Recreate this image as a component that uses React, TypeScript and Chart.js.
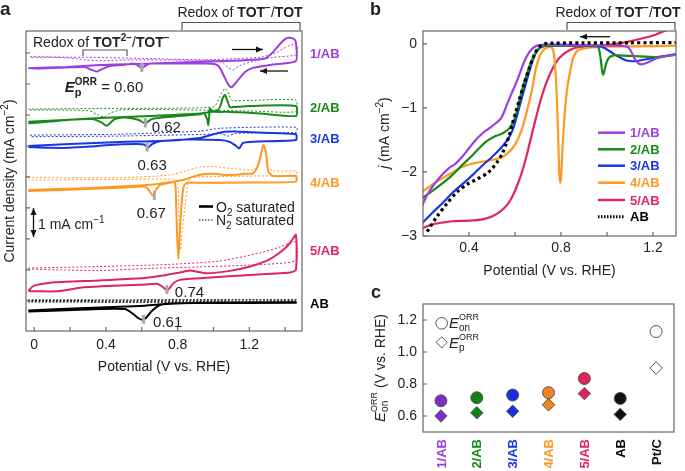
import React, { useEffect, useRef } from 'react';
import { Chart, registerables } from 'chart.js';
Chart.register(...registerables);

const FF = '"Liberation Sans", Arial, Helvetica, sans-serif';
Chart.defaults.font.family = FF;
Chart.defaults.color = '#222';

// ---------- colours ----------
const C1 = '#9a3fe0';
const C2 = '#178a17';
const C3 = '#1a35e8';
const C4 = '#ff9820';
const C5 = '#e2245c';
const CAB = '#000000';
const lineColors = [C1, C2, C3, C4, C5, CAB];
const dotColorsC = ['#7b2fc4', '#138013', '#1830dc', '#f2851f', '#e0245a', '#111111', '#ffffff'];

// ---------- panel a : CV loops (V vs RHE, offset current) ----------
const cv1O2 = [[-0.033,7.51],[0.181,7.55],[0.367,7.61],[0.739,7.68],[1.11,7.75],[1.26,7.80],[1.297,7.84],[1.332,8.03],[1.371,8.29],[1.405,8.47],[1.427,8.49],[1.449,8.45],[1.46,8.35],
  [1.46,7.74],[1.332,7.63],[1.22,7.52],[1.176,7.39],[1.137,7.13],[1.103,6.90],[1.087,6.94],[1.064,7.19],[1.036,7.52],[1.014,7.63],[0.953,7.66],[0.739,7.66],[0.646,7.66],[0.625,7.60],[0.60,7.52],[0.578,7.60],[0.55,7.66],[0.516,7.63],[0.422,7.58],[0.367,7.45],[0.348,7.40],[0.322,7.45],[0.283,7.55],[0.177,7.53],[0.032,7.50],[-0.033,7.51]];
const cv1N2 = [[-0.024,7.88],[0.292,7.86],[0.664,7.82],[0.943,7.78],[1.129,7.82],[1.26,7.86],[1.334,7.97],[1.39,8.14],[1.427,8.25],[1.464,8.27],
  [1.464,7.95],[1.334,7.86],[1.222,7.73],[1.148,7.60],[1.11,7.46],[1.083,7.52],[1.055,7.68],[1.018,7.75],[0.85,7.77],[0.534,7.78],[0.385,7.75],[0.292,7.77],[0.237,7.82],[0.106,7.86],[-0.024,7.86]];
const cv2O2 = [[-0.033,5.78],[0.367,5.90],[0.646,5.97],[0.925,6.05],[1.025,6.16],[1.042,6.35],[1.051,6.54],[1.064,6.65],[1.079,6.43],[1.092,6.25],[1.12,6.26],[1.204,6.29],[1.46,6.29],
  [1.46,5.97],[1.26,6.05],[1.092,6.10],[0.997,6.11],[0.98,6.21],[0.976,5.95],[0.971,5.68],[0.964,5.87],[0.947,6.06],[0.925,6.02],[0.757,5.94],[0.657,5.87],[0.618,5.73],[0.584,5.84],[0.506,5.92],[0.45,5.87],[0.422,5.73],[0.404,5.65],[0.372,5.77],[0.322,5.87],[0.199,5.85],[0.088,5.79],[-0.033,5.73]];
const cv2N2 = [[-0.033,6.19],[0.367,6.21],[0.925,6.23],[1.008,6.29],[1.036,6.61],[1.064,6.86],[1.081,6.74],[1.103,6.48],[1.204,6.47],[1.46,6.48],
  [1.46,6.11],[1.204,6.13],[1.008,6.15],[0.646,6.18],[0.478,6.16],[0.422,6.06],[0.389,5.94],[0.355,6.0],[0.311,6.13],[0.143,6.16],[-0.033,6.16]];
const cv3O2 = [[-0.033,5.00],[0.199,5.06],[0.478,5.13],[0.701,5.16],[0.925,5.26],[1.008,5.39],[1.064,5.46],[1.12,5.47],[1.222,5.44],[1.46,5.38],
  [1.46,5.19],[1.222,5.14],[1.165,5.10],[1.143,4.92],[1.126,5.00],[1.092,5.13],[1.036,5.19],[0.85,5.21],[0.701,5.15],[0.657,5.06],[0.636,4.95],[0.612,5.05],[0.562,5.06],[0.422,5.03],[0.311,4.98],[0.199,4.94],[0.088,4.94],[-0.033,4.97]];
const cv3N2 = [[-0.024,5.35],[0.478,5.38],[0.925,5.48],[1.036,5.57],[1.204,5.60],[1.464,5.60],
  [1.464,5.44],[1.204,5.42],[1.12,5.40],[1.081,5.32],[1.047,5.39],[0.925,5.37],[0.478,5.32],[-0.024,5.30]];
const cv4O2 = [[-0.033,3.58],[0.292,3.64],[0.664,3.76],[0.776,3.85],[0.841,3.92],[0.887,4.01],[0.943,4.09],[1.008,4.10],[1.074,4.06],[1.176,4.10],[1.222,4.12],[1.237,4.23],[1.25,4.39],[1.269,4.82],[1.278,5.03],[1.287,4.94],[1.297,4.61],[1.306,4.17],[1.334,4.03],[1.46,4.03],
  [1.46,3.85],[1.204,3.82],[0.925,3.81],[0.852,3.81],[0.835,3.71],[0.824,3.26],[0.813,2.29],[0.804,1.35],[0.796,2.29],[0.791,3.26],[0.788,3.71],[0.78,3.84],[0.757,3.81],[0.701,3.74],[0.679,3.58],[0.664,3.39],[0.646,3.52],[0.623,3.68],[0.562,3.68],[0.367,3.63],[0.143,3.58],[-0.033,3.55]];
const cv4N2 = [[-0.033,3.98],[0.478,3.98],[0.757,4.06],[0.841,4.19],[0.925,4.32],[1.008,4.33],[1.12,4.26],[1.222,4.23],[1.248,4.39],[1.271,4.87],[1.282,4.97],[1.293,4.68],[1.304,4.29],[1.343,4.19],[1.464,4.19],
  [1.464,4.06],[1.204,4.03],[0.925,4.00],[0.869,3.97],[0.855,3.7],[0.84,3.0],[0.825,2.2],[0.816,1.65],[0.81,2.3],[0.805,3.2],[0.80,3.85],[0.78,3.93],[0.478,3.92],[-0.033,3.90]];
const cv5O2 = [[-0.033,0.32],[-0.006,0.48],[0.088,0.59],[0.367,0.66],[0.59,0.73],[0.739,0.84],[0.813,0.92],[0.869,0.98],[0.902,0.95],[0.962,0.89],[1.092,0.97],[1.204,1.11],[1.315,1.35],[1.39,1.65],[1.427,1.87],[1.46,2.13],
  [1.46,1.00],[1.427,0.92],[1.204,0.84],[0.925,0.73],[0.813,0.68],[0.776,0.57],[0.752,0.39],[0.739,0.35],[0.718,0.45],[0.69,0.55],[0.59,0.52],[0.367,0.47],[0.273,0.44],[0.199,0.37],[0.125,0.31],[0.032,0.31],[-0.033,0.32]];
const cv5N2 = [[-0.033,1.06],[0.367,1.11],[0.757,1.18],[1.036,1.29],[1.26,1.55],[1.371,1.74],[1.46,1.91],
  [1.46,1.30],[1.204,1.16],[0.925,1.10],[0.646,1.05],[0.367,0.98],[0.143,1.00],[-0.033,1.03]];
const cvABO2 = [[-0.033,-0.31],[0.143,-0.26],[0.367,-0.21],[0.59,-0.16],[0.739,-0.10],[0.925,-0.06],[1.46,-0.04],
  [1.46,-0.06],[0.925,-0.07],[0.757,-0.08],[0.701,-0.13],[0.657,-0.32],[0.623,-0.55],[0.605,-0.61],[0.579,-0.55],[0.545,-0.39],[0.506,-0.26],[0.367,-0.26],[0.143,-0.31],[-0.033,-0.34]];
const cvABN2 = [[-0.033,0.02],[1.46,0.03],[1.46,-0.03],[-0.033,-0.03]];

const cvO2 = [cv1O2, cv2O2, cv3O2, cv4O2, cv5O2, cvABO2];
const cvN2 = [cv1N2, cv2N2, cv3N2, cv4N2, cv5N2, cvABN2];

const xTickLabelsA = [0, 0.4, 0.8, 1.2];
const xTickMarksA = [0, 0.2, 0.4, 0.6, 0.8, 1.0, 1.2, 1.4];
const yTickMarksA = [0, 1, 2, 3, 4, 5, 6, 7, 8];

// ---------- panel b : LSV ----------
const lsv1 = [[0.196,-2.53],[0.218,-2.36],[0.247,-2.20],[0.276,-2.07],[0.313,-1.94],[0.342,-1.87],[0.371,-1.76],[0.4,-1.63],[0.429,-1.5],[0.458,-1.40],[0.487,-1.32],[0.516,-1.24],[0.538,-1.17],[0.553,-1.06],[0.567,-0.93],[0.582,-0.80],[0.604,-0.62],[0.618,-0.49],[0.64,-0.28],[0.662,-0.13],[0.684,-0.05],[0.705,-0.02],[0.75,-0.01],[0.9,-0.02],[1.05,-0.03],[1.09,-0.05],[1.105,-0.12],[1.12,-0.23],[1.135,-0.30],[1.15,-0.32],[1.171,-0.30],[1.214,-0.23],[1.26,-0.19],[1.3,-0.17]];
const lsv2 = [[0.196,-2.41],[0.24,-2.30],[0.284,-2.18],[0.327,-2.05],[0.371,-1.89],[0.415,-1.74],[0.444,-1.63],[0.473,-1.53],[0.509,-1.45],[0.545,-1.40],[0.575,-1.32],[0.596,-1.19],[0.611,-1.01],[0.621,-0.85],[0.64,-0.60],[0.662,-0.36],[0.684,-0.17],[0.705,-0.07],[0.73,-0.03],[0.8,-0.03],[0.955,-0.03],[0.965,-0.08],[0.973,-0.25],[0.98,-0.45],[0.984,-0.48],[0.99,-0.40],[0.997,-0.30],[1.01,-0.21],[1.03,-0.18],[1.054,-0.18],[1.113,-0.19],[1.17,-0.20],[1.214,-0.21],[1.26,-0.19],[1.3,-0.17]];
const lsv3 = [[0.196,-2.80],[0.24,-2.64],[0.284,-2.49],[0.327,-2.33],[0.371,-2.19],[0.415,-2.05],[0.458,-1.90],[0.502,-1.76],[0.538,-1.63],[0.567,-1.50],[0.589,-1.35],[0.607,-1.14],[0.621,-0.96],[0.633,-0.80],[0.655,-0.52],[0.676,-0.27],[0.698,-0.10],[0.72,-0.04],[0.76,-0.03],[0.97,-0.04],[0.996,-0.08],[1.04,-0.18],[1.084,-0.26],[1.127,-0.27],[1.185,-0.23],[1.25,-0.19],[1.3,-0.16]];
const lsv4 = [[0.196,-2.31],[0.24,-2.20],[0.284,-2.10],[0.327,-2.01],[0.371,-1.92],[0.415,-1.87],[0.458,-1.84],[0.502,-1.81],[0.538,-1.78],[0.567,-1.71],[0.589,-1.63],[0.611,-1.50],[0.633,-1.30],[0.647,-1.12],[0.662,-0.91],[0.676,-0.68],[0.69,-0.40],[0.705,-0.21],[0.72,-0.11],[0.738,-0.06],[0.755,-0.05],[0.765,-0.09],[0.772,-0.25],[0.778,-0.55],[0.783,-0.95],[0.788,-1.5],[0.793,-2.05],[0.797,-2.17],[0.801,-2.05],[0.807,-1.6],[0.815,-1.15],[0.825,-0.75],[0.84,-0.42],[0.855,-0.2],[0.875,-0.1],[0.92,-0.06],[1.0,-0.045],[1.1,-0.04],[1.3,-0.03]];
const lsv5 = [[0.196,-2.88],[0.24,-2.82],[0.284,-2.79],[0.327,-2.77],[0.4,-2.76],[0.458,-2.74],[0.502,-2.69],[0.538,-2.61],[0.567,-2.51],[0.589,-2.38],[0.611,-2.20],[0.633,-1.97],[0.655,-1.68],[0.676,-1.37],[0.698,-1.06],[0.713,-0.86],[0.735,-0.62],[0.764,-0.38],[0.793,-0.22],[0.836,-0.10],[0.88,-0.05],[0.95,-0.035],[0.996,-0.02],[1.06,0.01],[1.113,0.05],[1.2,0.13],[1.25,0.2],[1.3,0.27]];
const lsvAB = [[0.218,-2.93],[0.262,-2.69],[0.305,-2.49],[0.349,-2.31],[0.393,-2.19],[0.436,-2.11],[0.48,-2.02],[0.502,-1.94],[0.524,-1.84],[0.545,-1.71],[0.56,-1.58],[0.575,-1.43],[0.589,-1.24],[0.604,-1.06],[0.618,-0.88],[0.64,-0.62],[0.662,-0.38],[0.684,-0.17],[0.705,-0.05],[0.73,0.0],[0.76,0.01],[0.9,0.015],[1.1,0.016],[1.3,0.02]];
const lsvSet = [lsv1, lsv2, lsv3, lsv4, lsv5, lsvAB];

const xTickLabelsB = [0.4, 0.8, 1.2];
const xTickMarksB = [0.4, 0.6, 0.8, 1.0, 1.2];
const yTicksB = [0, -1, -2, -3];

// ---------- panel c ----------
const sampleNames = ['1/AB', '2/AB', '3/AB', '4/AB', '5/AB', 'AB'];
const catsC = ['1/AB', '2/AB', '3/AB', '4/AB', '5/AB', 'AB', 'Pt/C'];
const eOnC = [0.695, 0.714, 0.731, 0.746, 0.834, 0.71, 1.128];
const epC = [0.60, 0.62, 0.63, 0.67, 0.74, 0.61, 0.90];
const yTicksC = [0.6, 0.8, 1.0, 1.2];

// ---------- helpers ----------
type Seg = { t: string; size?: number; bold?: boolean; italic?: boolean; dy?: number; stack?: boolean; color?: string };
const fnt = (size: number, bold?: boolean, italic?: boolean) =>
  `${italic ? 'italic ' : ''}${bold ? 'bold ' : ''}${size}px ${FF}`;

function richWidth(ctx: any, segs: Seg[], base: number) {
  let x = 0, prevStart = 0;
  for (const s of segs) {
    ctx.font = fnt(s.size ?? base, s.bold, s.italic);
    const w = ctx.measureText(s.t).width;
    const start = s.stack ? prevStart : x;
    x = s.stack ? Math.max(x, start + w) : start + w;
    prevStart = start;
  }
  return x;
}
function drawRich(ctx: any, x: number, y: number, segs: Seg[], align = 'left', base = 14, color = '#222') {
  const total = richWidth(ctx, segs, base);
  let cx = align === 'left' ? x : align === 'center' ? x - total / 2 : x - total;
  let prevStart = cx;
  ctx.textAlign = 'left';
  ctx.textBaseline = 'alphabetic';
  for (const s of segs) {
    ctx.font = fnt(s.size ?? base, s.bold, s.italic);
    ctx.fillStyle = s.color ?? color;
    const w = ctx.measureText(s.t).width;
    const start = s.stack ? prevStart : cx;
    ctx.fillText(s.t, start, y + (s.dy ?? 0));
    cx = s.stack ? Math.max(cx, start + w) : start + w;
    prevStart = start;
  }
}
function rotRich(ctx: any, cx: number, cy: number, segs: Seg[], align = 'center', base = 14, color = '#222') {
  ctx.save();
  ctx.translate(cx, cy);
  ctx.rotate(-Math.PI / 2);
  drawRich(ctx, 0, 0, segs, align, base, color);
  ctx.restore();
}
function arrowHead(ctx: any, xa: number, ya: number, xb: number, yb: number, len = 7, hw = 3) {
  const a = Math.atan2(yb - ya, xb - xa);
  ctx.beginPath();
  ctx.moveTo(xb, yb);
  ctx.lineTo(xb - len * Math.cos(a) + hw * Math.sin(a), yb - len * Math.sin(a) - hw * Math.cos(a));
  ctx.lineTo(xb - len * Math.cos(a) - hw * Math.sin(a), yb - len * Math.sin(a) + hw * Math.cos(a));
  ctx.closePath();
  ctx.fill();
}
function arrow(ctx: any, x1: number, y1: number, x2: number, y2: number, both = false) {
  ctx.save();
  ctx.strokeStyle = '#111';
  ctx.fillStyle = '#111';
  ctx.lineWidth = 1.3;
  ctx.beginPath();
  ctx.moveTo(x1, y1);
  ctx.lineTo(x2, y2);
  ctx.stroke();
  arrowHead(ctx, x1, y1, x2, y2);
  if (both) arrowHead(ctx, x2, y2, x1, y1);
  ctx.restore();
}
function bracket(ctx: any, x1: number, x2: number, yTop: number, yBot: number) {
  ctx.save();
  ctx.strokeStyle = '#555';
  ctx.lineWidth = 1.2;
  ctx.beginPath();
  ctx.moveTo(x1, yBot);
  ctx.lineTo(x1, yTop);
  ctx.lineTo(x2, yTop);
  ctx.lineTo(x2, yBot);
  ctx.stroke();
  ctx.restore();
}
function frame(chart: any, xt: number[], yt: number[], len = 4) {
  const { ctx, chartArea: a, scales } = chart;
  ctx.save();
  ctx.strokeStyle = '#666';
  ctx.lineWidth = 1.2;
  ctx.strokeRect(a.left, a.top, a.right - a.left, a.bottom - a.top);
  ctx.beginPath();
  for (const v of xt) {
    const p = scales.x.getPixelForValue(v);
    ctx.moveTo(p, a.bottom);
    ctx.lineTo(p, a.bottom - len);
  }
  for (const v of yt) {
    const p = scales.y.getPixelForValue(v);
    ctx.moveTo(a.left, p);
    ctx.lineTo(a.left + len, p);
  }
  ctx.stroke();
  ctx.restore();
}
const sup = (t: string, bold = false): Seg => ({ t, size: 10, dy: -6, bold });
const potentialTitle: Seg[] = [{ t: 'Potential (V vs. RHE)' }];
const tot1: Seg[] = [{ t: 'Redox of ' }, { t: 'TOT', bold: true }, sup('\u2212', true), { t: '/' }, { t: 'TOT', bold: true }];
const tot2: Seg[] = [{ t: 'Redox of ' }, { t: 'TOT', bold: true }, sup('2\u2212', true), { t: '/' }, { t: 'TOT', bold: true }, sup('\u2212', true)];

const pts = (a: number[][]) => a.map(([x, y]) => ({ x, y }));
const lineDs = (data: number[][], color: string, width: number, dash: number[] = [], tension = 0.2) => ({
  data: pts(data), showLine: true, borderColor: color, backgroundColor: color, borderWidth: width,
  borderDash: dash, pointRadius: 0, pointHoverRadius: 0, tension, fill: false, borderCapStyle: 'butt',
});

// ---------- chart a ----------
function cfgA(): any {
  const ds: any[] = [];
  cvO2.forEach((d, i) => ds.push(lineDs(d, lineColors[i], 2)));
  cvN2.forEach((d, i) => ds.push(lineDs(d, lineColors[i], i === 5 ? 1.4 : 1, i === 5 ? [2, 1.5] : [2, 2])));
  const epLabelPos = [
    { dx: -77, dy: 24, align: 'left' },
    { dx: 21, dy: 9, align: 'center' },
    { dx: 5, dy: 22.5, align: 'center' },
    { dx: -3, dy: 22, align: 'center' },
    { dx: 8, dy: 7, align: 'left' },
    { dx: 9.5, dy: 7, align: 'left' },
  ];
  const rightLabelY = [57.5, 112, 143, 186.5, 255, 307.5];
  const decor = {
    id: 'decorA',
    afterDraw(chart: any) {
      const { ctx, scales: { x, y } } = chart;
      frame(chart, xTickMarksA, yTickMarksA);
      cvO2.forEach((d, i) => {
        const ep = epC[i];
        let best: number | null = null;
        for (const [px, py] of d) if (Math.abs(px - ep) < 0.03 && (best === null || py < best)) best = py;
        const mx = x.getPixelForValue(ep);
        const my = y.getPixelForValue(best as number);
        ctx.save();
        ctx.fillStyle = '#a9a9a9';
        ctx.fillRect(mx - 1.5, my - 5, 3, 9);
        ctx.restore();
        const lp = epLabelPos[i];
        const txt = ep.toFixed(2);
        if (i === 0) {
          drawRich(ctx, mx + lp.dx, my + lp.dy, [
            { t: 'E', bold: true, italic: true, size: 15 },
            { t: 'p', bold: true, size: 11, dy: 4 },
            { t: 'ORR', bold: true, size: 10, dy: -7, stack: true },
            { t: ' = ' + txt, size: 15 },
          ], 'left');
        } else {
          drawRich(ctx, mx + lp.dx, my + lp.dy, [{ t: txt, size: 15 }], lp.align);
        }
      });
      sampleNames.forEach((n, i) => drawRich(ctx, 310, rightLabelY[i], [{ t: n, bold: true }], 'left', 13, lineColors[i]));
      bracket(ctx, 182, 300, 22.5, 30);
      drawRich(ctx, 240, 17, tot1, 'center', 14);
      bracket(ctx, 83, 127, 50, 56);
      drawRich(ctx, 33, 47, tot2, 'left', 14);
      arrow(ctx, 232, 49.5, 263, 49.5);
      arrow(ctx, 288, 71, 260, 71);
      ctx.save();
      ctx.strokeStyle = '#000';
      ctx.lineWidth = 2.6;
      ctx.beginPath(); ctx.moveTo(199, 206.5); ctx.lineTo(213, 206.5); ctx.stroke();
      ctx.lineWidth = 1;
      ctx.setLineDash([1.5, 1.5]);
      ctx.beginPath(); ctx.moveTo(199, 220); ctx.lineTo(213, 220); ctx.stroke();
      ctx.restore();
      drawRich(ctx, 216, 211.5, [{ t: 'O' }, { t: '2', size: 10, dy: 4 }, { t: ' saturated' }], 'left', 14);
      drawRich(ctx, 216, 225, [{ t: 'N' }, { t: '2', size: 10, dy: 4 }, { t: ' saturated' }], 'left', 14);
      arrow(ctx, 33.5, 222, 33.5, 208, false);
      arrow(ctx, 33.5, 222, 33.5, 237, false);
      drawRich(ctx, 38, 229, [{ t: '1 mA cm' }, sup('\u22121')], 'left', 14);
      drawRich(ctx, 164, 371, potentialTitle, 'center', 14);
      rotRich(ctx, 14, 181, [{ t: 'Current density (mA cm' }, sup('\u22122'), { t: ')' }], 'center', 14);
      drawRich(ctx, 0, 15, [{ t: 'a', bold: true, size: 19 }], 'left');
    },
  };
  return {
    type: 'scatter',
    data: { datasets: ds },
    options: {
      animation: false, responsive: false, devicePixelRatio: 1,
      layout: { padding: { left: 0, right: 383, top: 31, bottom: 100 } },
      plugins: { legend: { display: false }, tooltip: { enabled: false } },
      scales: {
        x: {
          type: 'linear', min: -0.046, max: 1.494,
          grid: { display: false, drawTicks: false }, border: { display: false },
          ticks: { font: { size: 14 }, color: '#222', padding: 6, callback: (v: number) => (v === 0 ? '0' : v.toFixed(1)) },
          afterBuildTicks: (s: any) => { s.ticks = xTickLabelsA.map((v) => ({ value: v })); },
          afterFit: (s: any) => { s.height = 40; },
        },
        y: {
          type: 'linear', min: -0.97, max: 8.71,
          grid: { display: false, drawTicks: false }, border: { display: false },
          ticks: { display: false },
          afterFit: (s: any) => { s.width = 26; },
        },
      },
    },
    plugins: [decor],
  };
}

// ---------- chart b ----------
function cfgB(): any {
  const ds: any[] = [];
  ds.push(lineDs(lsvAB, CAB, 3.2, [3, 3.2], 0.3));
  lsvSet.slice(0, 5).forEach((d, i) => ds.push(lineDs(d, lineColors[i], 2.2, [], 0.3)));
  const legY = [132.7, 149.3, 165.7, 182.7, 200, 216.7];
  const decor = {
    id: 'decorB',
    afterDraw(chart: any) {
      const { ctx } = chart;
      frame(chart, xTickMarksB, yTicksB);
      sampleNames.forEach((n, i) => {
        ctx.save();
        ctx.strokeStyle = lineColors[i];
        ctx.lineWidth = i === 5 ? 3 : 2.5;
        if (i === 5) ctx.setLineDash([1.5, 1.5]);
        ctx.beginPath(); ctx.moveTo(598, legY[i]); ctx.lineTo(625, legY[i]); ctx.stroke();
        ctx.restore();
        drawRich(ctx, 630, legY[i] + 4.7, [{ t: n, bold: true }], 'left', 13, lineColors[i]);
      });
      bracket(ctx, 567, 675, 22.5, 30);
      drawRich(ctx, 618, 17, tot1, 'center', 14);
      arrow(ctx, 610, 36.7, 580, 36.7);
      drawRich(ctx, 549.5, 275, potentialTitle, 'center', 14);
      rotRich(ctx, 389, 133, [{ t: 'j', italic: true }, { t: ' (mA cm' }, sup('\u22122'), { t: ')' }], 'center', 14);
      drawRich(ctx, 370, 15, [{ t: 'b', bold: true, size: 18 }], 'left');
    },
  };
  return {
    type: 'scatter',
    data: { datasets: ds },
    options: {
      animation: false, responsive: false, devicePixelRatio: 1,
      layout: { padding: { left: 345, right: 9, top: 31, bottom: 205 } },
      plugins: { legend: { display: false }, tooltip: { enabled: false } },
      scales: {
        x: {
          type: 'linear', min: 0.2, max: 1.3,
          grid: { display: false, drawTicks: false }, border: { display: false },
          ticks: { font: { size: 14 }, color: '#222', padding: 4, callback: (v: number) => v.toFixed(1) },
          afterBuildTicks: (s: any) => { s.ticks = xTickLabelsB.map((v) => ({ value: v })); },
          afterFit: (s: any) => { s.height = 30; },
        },
        y: {
          type: 'linear', min: -3, max: 0.2,
          grid: { display: false, drawTicks: false }, border: { display: false },
          ticks: { font: { size: 14 }, color: '#222', padding: 6, callback: (v: number) => (v === 0 ? '0' : '\u2212' + Math.abs(v)) },
          afterBuildTicks: (s: any) => { s.ticks = yTicksB.map((v) => ({ value: v })); },
          afterFit: (s: any) => { s.width = 78; },
        },
      },
    },
    plugins: [decor],
  };
}

// ---------- chart c ----------
function cfgC(): any {
  const decor = {
    id: 'decorC',
    afterDraw(chart: any) {
      const { ctx, scales: { x } } = chart;
      frame(chart, [], yTicksC);
      catsC.forEach((n, i) => {
        const px = x.getPixelForValue(i);
        rotRich(ctx, px + 4.7, 439, [{ t: n, bold: true }], 'right', 13, i < 6 ? lineColors[i] : '#111');
      });
      ctx.save();
      ctx.strokeStyle = '#555';
      ctx.fillStyle = '#fff';
      ctx.lineWidth = 1;
      ctx.beginPath(); ctx.arc(441.7, 323.3, 5.8, 0, Math.PI * 2); ctx.fill(); ctx.stroke();
      ctx.beginPath();
      ctx.moveTo(441.7, 336.7); ctx.lineTo(447.3, 342.3); ctx.lineTo(441.7, 347.9); ctx.lineTo(436.1, 342.3); ctx.closePath();
      ctx.fill(); ctx.stroke();
      ctx.restore();
      drawRich(ctx, 449, 328, [{ t: 'E', italic: true, size: 15 }, { t: 'on', size: 10, dy: 3 }, { t: 'ORR', size: 9, dy: -8, stack: true }], 'left');
      drawRich(ctx, 449, 347.5, [{ t: 'E', italic: true, size: 15 }, { t: 'p', size: 10, dy: 3 }, { t: 'ORR', size: 9, dy: -8, stack: true }], 'left');
      rotRich(ctx, 385, 368, [{ t: 'E', italic: true, size: 15 }, { t: 'on', size: 10, dy: 3 }, { t: 'ORR', size: 9, dy: -8, stack: true }, { t: ' (V vs. RHE)' }], 'center', 14);
      drawRich(ctx, 371, 298, [{ t: 'c', bold: true, size: 18 }], 'left');
    },
  };
  return {
    type: 'line',
    data: {
      labels: catsC,
      datasets: [
        { data: eOnC, showLine: false, pointStyle: 'circle', pointRadius: 6, pointHoverRadius: 6, pointBackgroundColor: dotColorsC, pointBorderColor: '#555', pointBorderWidth: 1 },
        { data: epC, showLine: false, pointStyle: 'rectRot', pointRadius: 6.2, pointHoverRadius: 6.2, pointBackgroundColor: dotColorsC, pointBorderColor: '#555', pointBorderWidth: 1 },
      ],
    },
    options: {
      animation: false, responsive: false, devicePixelRatio: 1,
      layout: { padding: { left: 345, right: 11, top: 304, bottom: 19 } },
      plugins: { legend: { display: false }, tooltip: { enabled: false } },
      scales: {
        x: {
          type: 'category', offset: true,
          grid: { display: false, drawTicks: false }, border: { display: false },
          ticks: { display: false },
          afterFit: (s: any) => { s.height = 20; },
        },
        y: {
          type: 'linear', min: 0.5, max: 1.3,
          grid: { display: false, drawTicks: false }, border: { display: false },
          ticks: { font: { size: 14 }, color: '#222', padding: 6, callback: (v: number) => v.toFixed(1) },
          afterBuildTicks: (s: any) => { s.ticks = yTicksC.map((v) => ({ value: v })); },
          afterFit: (s: any) => { s.width = 78; },
        },
      },
    },
    plugins: [decor],
  };
}

export default function App() {
  const ra = useRef<HTMLCanvasElement>(null);
  const rb = useRef<HTMLCanvasElement>(null);
  const rc = useRef<HTMLCanvasElement>(null);
  useEffect(() => {
    const charts = [new Chart(ra.current as any, cfgA()), new Chart(rb.current as any, cfgB()), new Chart(rc.current as any, cfgC())];
    return () => charts.forEach((c) => c.destroy());
  }, []);
  const st: any = { position: 'absolute', left: 0, top: 0 };
  return (
    <div style={{ position: 'fixed', left: 0, top: 0, width: 685, height: 471, background: '#fff', overflow: 'hidden' }}>
      <canvas ref={ra} width={685} height={471} style={st} />
      <canvas ref={rb} width={685} height={471} style={st} />
      <canvas ref={rc} width={685} height={471} style={st} />
    </div>
  );
}
